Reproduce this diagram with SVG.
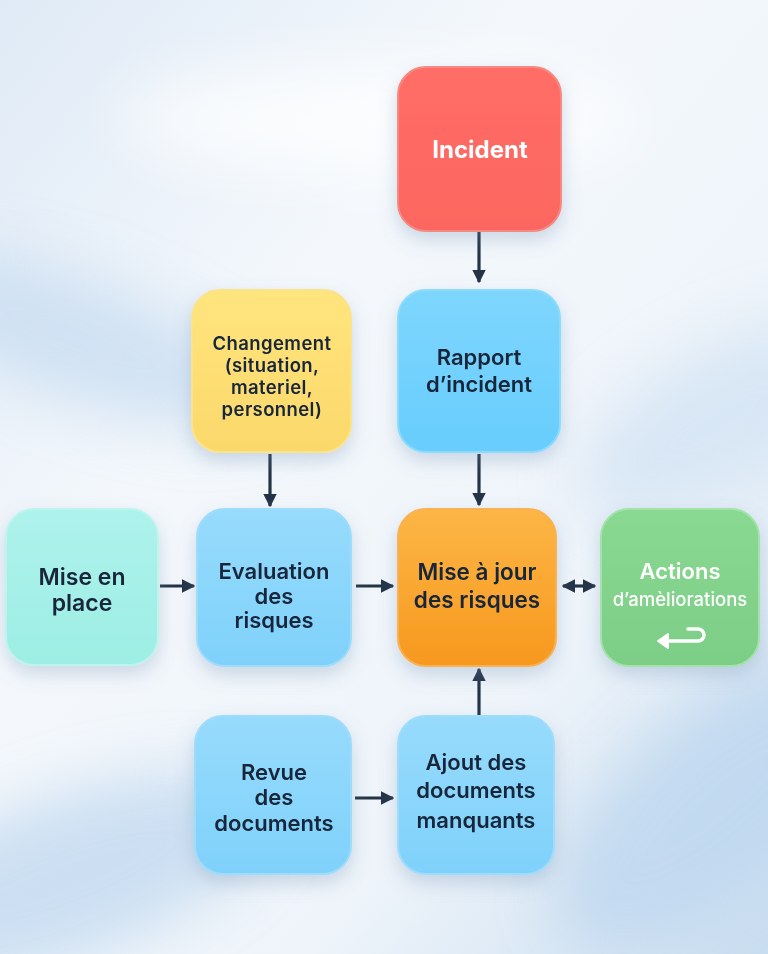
<svg xmlns="http://www.w3.org/2000/svg" width="768" height="954" viewBox="0 0 768 954">
<defs>
<linearGradient id="bg" x1="0" y1="0" x2="1" y2="1">
<stop offset="0" stop-color="#dfeaf6"/>
<stop offset="0.35" stop-color="#f4f8fc"/>
<stop offset="0.7" stop-color="#eef4fa"/>
<stop offset="1" stop-color="#c9ddf0"/>
</linearGradient>
<filter id="blur" x="-50%" y="-50%" width="200%" height="200%"><feGaussianBlur stdDeviation="30"/></filter>
<filter id="sh" x="-30%" y="-30%" width="160%" height="170%"><feDropShadow dx="0" dy="8" stdDeviation="9" flood-color="#6f8fb0" flood-opacity="0.3"/></filter>
<linearGradient id="gRed" x1="0" y1="0" x2="0" y2="1"><stop offset="0" stop-color="#ff6e66"/><stop offset="1" stop-color="#fc6660"/></linearGradient>
<linearGradient id="gBlue" x1="0" y1="0" x2="0" y2="1"><stop offset="0" stop-color="#7ed6fd"/><stop offset="1" stop-color="#68cdfd"/></linearGradient>
<linearGradient id="gBlue2" x1="0" y1="0" x2="0" y2="1"><stop offset="0" stop-color="#97dbfc"/><stop offset="1" stop-color="#7fd1fb"/></linearGradient>
<linearGradient id="gYel" x1="0" y1="0" x2="0" y2="1"><stop offset="0" stop-color="#ffe57e"/><stop offset="1" stop-color="#fbd86a"/></linearGradient>
<linearGradient id="gTeal" x1="0" y1="0" x2="0" y2="1"><stop offset="0" stop-color="#aef2ec"/><stop offset="1" stop-color="#9deee4"/></linearGradient>
<linearGradient id="gOr" x1="0" y1="0" x2="0" y2="1"><stop offset="0" stop-color="#fdb646"/><stop offset="1" stop-color="#f7981e"/></linearGradient>
<linearGradient id="gGr" x1="0" y1="0" x2="0" y2="1"><stop offset="0" stop-color="#8ad993"/><stop offset="1" stop-color="#7ccd86"/></linearGradient>
<marker id="ah" viewBox="0 0 10 10" refX="9" refY="5" markerWidth="4.2" markerHeight="4.2" orient="auto-start-reverse" markerUnits="strokeWidth">
<path d="M0,0 L10,5 L0,10 z" fill="#243447"/>
</marker>
<style>
.n{filter:url(#sh);stroke-width:2}
.t{font-family:Inter,"Noto Sans","Liberation Sans",sans-serif;font-weight:600;font-size:22px;fill:#17263a;text-anchor:middle}
.s{font-size:18.5px;letter-spacing:0.4px}
.w{fill:#ffffff}
.c{stroke:#243447;stroke-width:3.2;fill:none;marker-end:url(#ah)}
</style>
</defs>
<rect width="768" height="954" fill="url(#bg)"/>
<g filter="url(#blur)" opacity="0.7">
<ellipse cx="80" cy="340" rx="200" ry="60" fill="#c4daf0" transform="rotate(20 80 340)"/>
<ellipse cx="720" cy="420" rx="160" ry="70" fill="#cfe1f3" transform="rotate(-30 720 420)"/>
<ellipse cx="60" cy="880" rx="220" ry="80" fill="#bcd5ee" transform="rotate(-20 60 880)"/>
<ellipse cx="720" cy="800" rx="200" ry="90" fill="#b9d4ee" transform="rotate(-40 720 800)"/>
<ellipse cx="380" cy="120" rx="260" ry="60" fill="#ffffff"/>
</g>

<g id="connectors">
<line class="c" x1="479" y1="232" x2="479" y2="282"/>
<line class="c" x1="479" y1="454" x2="479" y2="505"/>
<line class="c" x1="270" y1="454" x2="270" y2="506"/>
<line class="c" x1="160" y1="586" x2="194" y2="586"/>
<line class="c" x1="356" y1="586" x2="393" y2="586"/>
<line class="c" x1="563" y1="586" x2="595" y2="586" marker-start="url(#ah)"/>
<line class="c" x1="479" y1="715" x2="479" y2="669"/>
<line class="c" x1="355" y1="798" x2="393" y2="798"/>
</g>

<g id="incident">
<rect class="n" x="398" y="67" width="163" height="164" rx="28" fill="url(#gRed)" stroke="#f48a82"/>
<text class="t w" x="480" y="158" style="font-size:24px;font-weight:700">Incident</text>
</g>
<g id="rapport">
<rect class="n" x="398" y="290" width="162" height="162" rx="28" fill="url(#gBlue)" stroke="#8bdcfb"/>
<text class="t" x="479" y="365">Rapport</text>
<text class="t" x="479" y="392">d’incident</text>
</g>
<g id="changement">
<rect class="n" x="192" y="290" width="159" height="162" rx="28" fill="url(#gYel)" stroke="#fbe38c"/>
<text class="t s" x="272" y="350">Changement</text>
<text class="t s" x="272" y="372">(situation,</text>
<text class="t s" x="272" y="394">materiel,</text>
<text class="t s" x="272" y="416">personnel)</text>
</g>
<g id="mise-en-place">
<rect class="n" x="6" y="509" width="152" height="156" rx="28" fill="url(#gTeal)" stroke="#bff4ee"/>
<text class="t" x="82" y="585" style="font-size:23px">Mise en</text>
<text class="t" x="82" y="611" style="font-size:23px">place</text>
</g>
<g id="evaluation">
<rect class="n" x="197" y="509" width="154" height="157" rx="28" fill="url(#gBlue2)" stroke="#9edcfb"/>
<text class="t" x="274" y="579">Evaluation</text>
<text class="t" x="274" y="604">des</text>
<text class="t" x="274" y="628">risques</text>
</g>
<g id="mise-a-jour">
<rect class="n" x="398" y="509" width="158" height="157" rx="28" fill="url(#gOr)" stroke="#f9b252"/>
<text class="t" x="477" y="580" style="font-size:22.5px">Mise à jour</text>
<text class="t" x="477" y="608" style="font-size:22.5px">des risques</text>
</g>
<g id="actions">
<rect class="n" x="601" y="509" width="158" height="157" rx="28" fill="url(#gGr)" stroke="#a3e2a8"/>
<text class="t w" x="680" y="579">Actions</text>
<text class="t w" x="680" y="606" style="font-size:18.5px;font-weight:500">d’amèliorations</text>
<path d="M665,641 H698 A6,6 0 0 0 698,629 H688" fill="none" stroke="#ffffff" stroke-width="3.5" stroke-linecap="round"/>
<path d="M658,641 L668,634 L668,648 z" fill="#ffffff" stroke="#ffffff" stroke-width="2" stroke-linejoin="round"/>
</g>
<g id="revue">
<rect class="n" x="195" y="716" width="156" height="158" rx="28" fill="url(#gBlue2)" stroke="#9edcfb"/>
<text class="t" x="274" y="780">Revue</text>
<text class="t" x="274" y="805">des</text>
<text class="t" x="274" y="831">documents</text>
</g>
<g id="ajout">
<rect class="n" x="398" y="716" width="156" height="158" rx="28" fill="url(#gBlue2)" stroke="#9edcfb"/>
<text class="t" x="476" y="770">Ajout des</text>
<text class="t" x="476" y="798">documents</text>
<text class="t" x="476" y="828">manquants</text>
</g>
</svg>
